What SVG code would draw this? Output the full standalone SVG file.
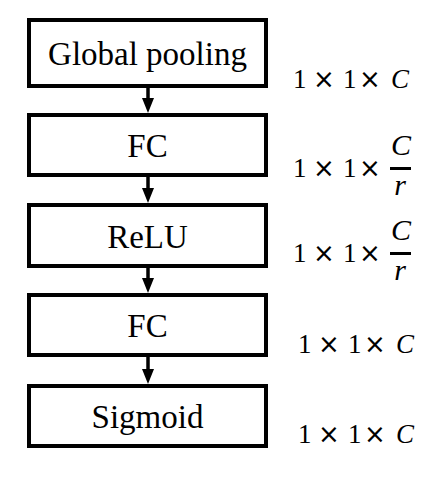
<svg xmlns="http://www.w3.org/2000/svg" width="437" height="483" viewBox="0 0 437 483">
<defs>
<style>
.box{fill:#fff;stroke:#000;stroke-width:4}
.lbl{font-family:"Liberation Serif","Times New Roman",serif;font-size:33px;fill:#000;text-anchor:middle}
.math{font-family:"Liberation Serif","Times New Roman",serif;font-size:27px;fill:#000}
.x{font-family:"DejaVu Sans",sans-serif;font-size:26px}
.it{font-style:italic}
.fr{font-family:"Liberation Serif","Times New Roman",serif;font-size:30px;font-style:italic;fill:#000;text-anchor:middle}
.bar{fill:#000}
.shaft{stroke:#000;stroke-width:3.5}
.head{fill:#000}
</style>
</defs>
<rect width="437" height="483" fill="#fff"/>
<g id="connectors">
<line class="shaft" x1="148" y1="88" x2="148" y2="100"/>
<polygon class="head" points="142,98 154,98 148,113"/>
<line class="shaft" x1="148" y1="177" x2="148" y2="190"/>
<polygon class="head" points="142,188 154,188 148,203"/>
<line class="shaft" x1="148" y1="268" x2="148" y2="280"/>
<polygon class="head" points="142,278 154,278 148,293"/>
<line class="shaft" x1="148" y1="357" x2="148" y2="371"/>
<polygon class="head" points="142,369 154,369 148,384"/>
</g>
<g id="global-pooling">
<rect class="box" x="29" y="20" width="237" height="66"/>
<text class="lbl" x="147.5" y="65">Global pooling</text>
</g>
<g id="fc1">
<rect class="box" x="29" y="115" width="237" height="60"/>
<text class="lbl" x="147.5" y="157">FC</text>
</g>
<g id="relu">
<rect class="box" x="29" y="205" width="237" height="61"/>
<text class="lbl" x="147.5" y="248">ReLU</text>
</g>
<g id="fc2">
<rect class="box" x="29" y="295" width="237" height="60"/>
<text class="lbl" x="147.5" y="337">FC</text>
</g>
<g id="sigmoid">
<rect class="box" x="29" y="386" width="237" height="60"/>
<text class="lbl" x="147.5" y="428">Sigmoid</text>
</g>
<g id="dims">
<text class="math" y="88"><tspan x="293">1</tspan><tspan class="x" x="313">×</tspan><tspan x="343">1</tspan><tspan class="x" x="359">×</tspan><tspan class="it" x="391">C</tspan></text>
<text class="math" y="177"><tspan x="293">1</tspan><tspan class="x" x="313">×</tspan><tspan x="343">1</tspan><tspan class="x" x="359">×</tspan></text>
<text class="fr" x="401" y="155">C</text>
<rect class="bar" x="390" y="167" width="21" height="3"/>
<text class="fr" x="400" y="195">r</text>
<text class="math" y="262"><tspan x="293">1</tspan><tspan class="x" x="313">×</tspan><tspan x="343">1</tspan><tspan class="x" x="359">×</tspan></text>
<text class="fr" x="401" y="240">C</text>
<rect class="bar" x="390" y="252" width="21" height="3"/>
<text class="fr" x="400" y="280">r</text>
<text class="math" y="353"><tspan x="298">1</tspan><tspan class="x" x="318">×</tspan><tspan x="348">1</tspan><tspan class="x" x="364">×</tspan><tspan class="it" x="396">C</tspan></text>
<text class="math" y="443"><tspan x="298">1</tspan><tspan class="x" x="318">×</tspan><tspan x="348">1</tspan><tspan class="x" x="364">×</tspan><tspan class="it" x="396">C</tspan></text>
</g>
</svg>
